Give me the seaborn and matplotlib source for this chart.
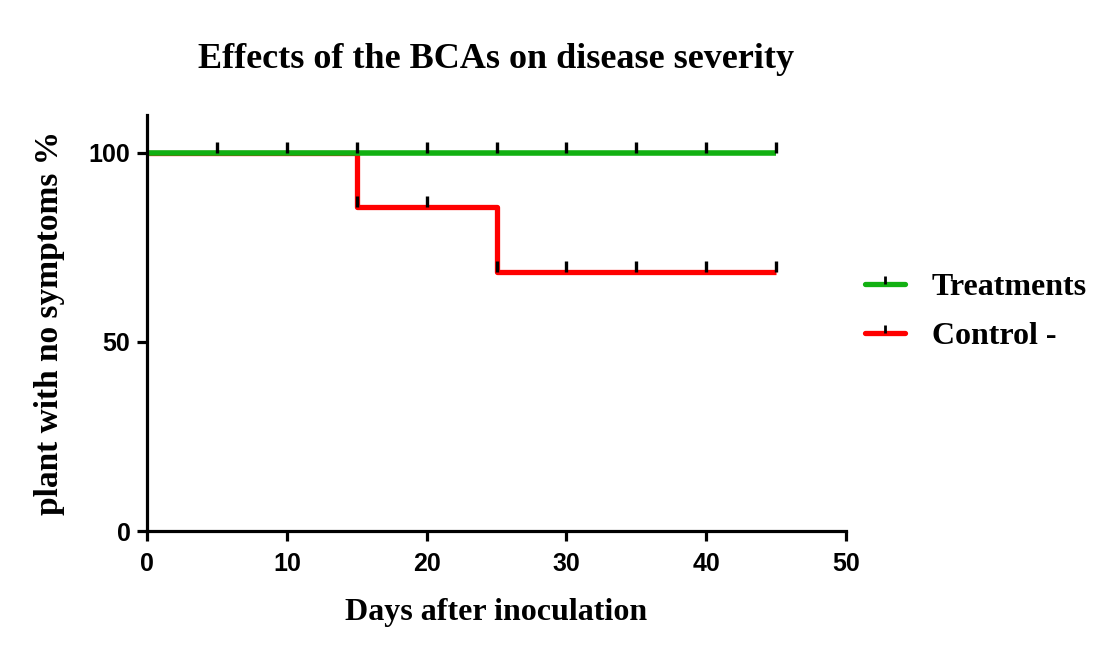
import matplotlib
matplotlib.use("Agg")
import matplotlib.pyplot as plt
from matplotlib.lines import Line2D
import seaborn as sns
import pandas as pd

# ---- data ----
groups = ["Treatments", "Control -"]
treat_days = [0, 45]
treat_surv = [100, 100]
ctrl_days = [0, 15, 25, 45]
ctrl_surv = [100, 85.7, 68.6, 68.6]
treat_censor_days = [5, 10, 15, 20, 25, 30, 35, 40, 45]
treat_censor_surv = [100, 100, 100, 100, 100, 100, 100, 100, 100]
ctrl_censor_days = [15, 20, 25, 30, 35, 40, 45]
ctrl_censor_surv = [85.7, 85.7, 68.6, 68.6, 68.6, 68.6, 68.6]
x_ticks = [0, 10, 20, 30, 40, 50]
y_ticks = [0, 50, 100]

colors = {"Treatments": "#12b012", "Control -": "#ff0000"}

curves = pd.DataFrame({
    "day": treat_days + ctrl_days,
    "surv": treat_surv + ctrl_surv,
    "group": [groups[0]] * len(treat_days) + [groups[1]] * len(ctrl_days),
})
censors = pd.DataFrame({
    "day": treat_censor_days + ctrl_censor_days,
    "surv": treat_censor_surv + ctrl_censor_surv,
})

sns.set_style("white")
plt.rcParams["font.family"] = ["Liberation Serif", "DejaVu Serif"]
plt.rcParams["text.color"] = "black"

fig = plt.figure(figsize=(10.99, 6.5), dpi=100)
ax = fig.add_axes([0.1338, 0.183, 0.636, 0.640])

# Control first then treatments on top
for g, lw in [(groups[1], 3.8), (groups[0], 4.0)]:
    sub = curves[curves["group"] == g]
    sns.lineplot(data=sub, x="day", y="surv", ax=ax, color=colors[g],
                 linewidth=lw, drawstyle="steps-post", estimator=None,
                 legend=False, solid_capstyle="butt")

sns.scatterplot(data=censors, x="day", y="surv", ax=ax, marker=2, s=60,
                color="black", edgecolor="black", linewidth=2.4, legend=False,
                zorder=5)

ax.set_xlim(0, 50)
ax.set_ylim(0, 110)
ax.set_xticks(x_ticks)
ax.set_yticks(y_ticks)
for s in ["top", "right"]:
    ax.spines[s].set_visible(False)
for s in ["left", "bottom"]:
    ax.spines[s].set_linewidth(2.3)
    ax.spines[s].set_color("black")
ax.tick_params(axis="x", pad=8)
ax.tick_params(axis="y", pad=5)
ax.tick_params(axis="both", direction="out", length=7, width=2.3,
               colors="black", bottom=True, left=True)
for lab in ax.get_xticklabels() + ax.get_yticklabels():
    lab.set_fontfamily("Liberation Sans")
    lab.set_fontweight("bold")
    lab.set_fontsize(18)

ax.set_xlabel("Days after inoculation", fontsize=23, fontweight="bold",
              color="black", labelpad=16)
ax.set_ylabel("plant with no symptoms %", fontsize=24, fontweight="bold",
              color="black", labelpad=17)
ax.set_title("Effects of the BCAs on disease severity", fontsize=26,
             fontweight="bold", color="black", pad=34)

handles = [Line2D([0], [0], color=colors[g], lw=3.8, marker=2, markersize=6,
                  markeredgecolor="black", markeredgewidth=2)
           for g in groups]
leg = fig.legend(handles, groups, loc="center left",
                 bbox_to_anchor=(0.787, 0.52),
                 frameon=False, handlelength=1.25, handletextpad=0.85,
                 labelspacing=0.62, borderpad=0, borderaxespad=0,
                 prop={"weight": "bold", "size": 23})
for t in leg.get_texts():
    t.set_color("black")

fig.savefig("out.png", dpi=100, facecolor="white")
